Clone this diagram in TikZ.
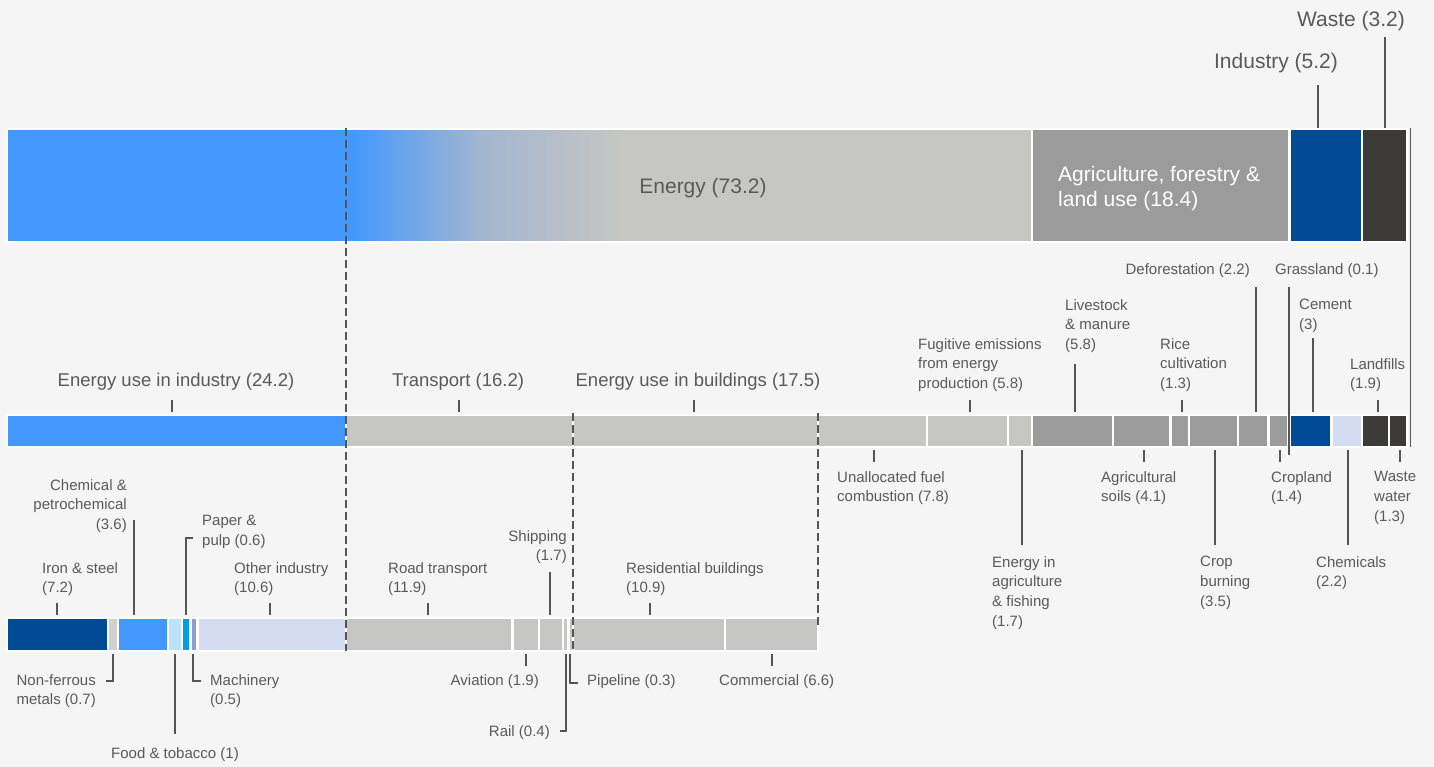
\documentclass[tikz,border=0pt]{standalone}
\usepackage{fontspec}
\setmainfont{Liberation Sans}
\definecolor{bg}{HTML}{F5F5F5}
\definecolor{eblue}{HTML}{4398FE}
\definecolor{egray}{HTML}{C6C6C4}
\definecolor{midc}{HTML}{A2B6D0}
\definecolor{agray}{HTML}{9B9B9B}
\definecolor{iblue}{HTML}{004B93}
\definecolor{wdark}{HTML}{3D3B39}
\definecolor{lav}{HTML}{D3DCF0}
\definecolor{nfgray}{HTML}{D0D0D0}
\definecolor{foodblue}{HTML}{BDE3FB}
\definecolor{paperblue}{HTML}{009FE3}
\definecolor{machblue}{HTML}{8C9ED0}
\definecolor{txt}{HTML}{5A5A5A}
\definecolor{ln}{HTML}{555555}
\tikzset{
  seg/.style={draw=white, line width=2.2pt},
  lead/.style={draw=ln, line width=1.1pt},
  dashln/.style={draw=ln, line width=1.1pt, dash pattern=on 8pt off 4pt},
  lbl/.style={text=txt, font=\fontsize{15}{19.8}\selectfont, inner sep=0pt},
  midl/.style={text=txt, font=\fontsize{18.5}{22}\selectfont, inner sep=0pt},
  big/.style={text=txt, font=\fontsize{21}{25}\selectfont, inner sep=0pt},
}
\begin{document}
\begin{tikzpicture}[x=1pt,y=-1pt]
\fill[bg] (0,0) rectangle (1434,767);
\useasboundingbox (0,0) rectangle (1434,767);

% ---------- top bar ----------
\fill[eblue] (7,129) rectangle (352,242);
\shade[left color=eblue, right color=midc] (352,129) rectangle (480,242);
\shade[left color=midc, right color=egray] (480,129) rectangle (620,242);
\fill[egray] (620,129) rectangle (1031.8,242);
\draw[seg] (7,129) rectangle (1031.8,242);
\draw[seg, fill=agray] (1031.8,129) rectangle (1289.4,242);
\draw[seg, fill=iblue] (1289.4,129) rectangle (1362.2,242);
\draw[seg, fill=wdark] (1362.2,129) rectangle (1407,242);

\node[big, anchor=base] (energy) at (703,193.5) {Energy (73.2)};
\node[big, text=white, anchor=north west, align=left] (agri) at (1058,166) {Agriculture, forestry \&\\land use (18.4)};
\node[big, anchor=base] (indl) at (1276,68.5) {Industry (5.2)};
\node[big, anchor=base east] (wastel) at (1405,26.5) {Waste (3.2)};
\draw[lead] (1318,85) -- (1318,128);
\draw[lead] (1385,37) -- (1385,128);
\draw[lead] (1410.5,128) -- (1410.5,447);

% ---------- middle bar ----------
\foreach \a/\b/\c in {7/345.8/eblue, 345.8/572.6/egray, 572.6/817.6/egray, 817.6/926.8/egray, 926.8/1008/egray, 1008/1031.8/egray,
  1031.8/1113/agray, 1113/1170.4/agray, 1170.4/1188.6/agray, 1188.6/1237.6/agray, 1237.6/1268.4/agray, 1268.4/1288.5/agray,
  1289.4/1331.4/iblue, 1331.4/1362.2/lav, 1362.2/1388.8/wdark, 1388.8/1407/wdark}
  \draw[seg, fill=\c] (\a,415) rectangle (\b,447);

% ---------- bottom bar ----------
\foreach \a/\b/\c in {7/107.8/iblue, 107.8/117.6/nfgray, 117.6/168/eblue, 168/182/foodblue, 182/190.4/paperblue, 190.4/197.4/machblue, 197.4/345.8/lav,
  345.8/512.4/egray, 512.4/539/egray, 539/562.8/egray, 562.8/568.4/egray, 568.4/572.6/egray, 572.6/725.2/egray, 725.2/817.6/egray}
  \draw[seg, fill=\c] (\a,618) rectangle (\b,651);

% dashed guides
\draw[dashln] (346,128) -- (346,651);
\draw[dashln] (573,413) -- (573,651);
\draw[dashln] (818,413) -- (818,628);

% ---------- middle labels above ----------
\node[midl, anchor=base] (eui) at (176,386.5) {Energy use in industry (24.2)};
\node[midl, anchor=base] (tra) at (458,386.5) {Transport (16.2)};
\node[midl, anchor=base] (eub) at (698,386.5) {Energy use in buildings (17.5)};
\draw[lead] (172,400) -- (172,412);
\draw[lead] (459,400) -- (459,412);
\draw[lead] (694,400) -- (694,412);

\node[lbl, anchor=north west, align=left] (fug) at (918,338) {Fugitive emissions\\from energy\\production (5.8)};
\draw[lead] (970,400) -- (970,412);
\node[lbl, anchor=north west, align=left] (liv) at (1065,299) {Livestock\\\& manure\\(5.8)};
\draw[lead] (1075,364) -- (1075,412);
\node[lbl, anchor=north west, align=left] (rice) at (1160,338) {Rice\\cultivation\\(1.3)};
\draw[lead] (1182,400) -- (1182,412);
\node[lbl, anchor=base east] (defo) at (1250,275) {Deforestation (2.2)};
\draw[lead] (1256,287) -- (1256,412);
\node[lbl, anchor=base west] (grass) at (1275,275) {Grassland (0.1)};
\draw[lead] (1289,287) -- (1289,455);
\node[lbl, anchor=north west, align=left] (cem) at (1299,299) {Cement\\(3)};
\draw[lead] (1313,338) -- (1313,412);
\node[lbl, anchor=north west, align=left] (landf) at (1350,358) {Landfills\\(1.9)};
\draw[lead] (1378,400) -- (1378,412);

% ---------- middle labels below ----------
\draw[lead] (874,450) -- (874,462);
\node[lbl, anchor=north west, align=left] (unal) at (837,471) {Unallocated fuel\\combustion (7.8)};
\draw[lead] (1022,450) -- (1022,545);
\node[lbl, anchor=north west, align=left] (eaf) at (992,556) {Energy in\\agriculture\\\& fishing\\(1.7)};
\draw[lead] (1144,450) -- (1144,462);
\node[lbl, anchor=north west, align=left] (soil) at (1101,471) {Agricultural\\soils (4.1)};
\draw[lead] (1215,450) -- (1215,545);
\node[lbl, anchor=north west, align=left] (crop) at (1200,556) {Crop\\burning\\(3.5)};
\draw[lead] (1280,450) -- (1280,462);
\node[lbl, anchor=north west, align=left] (cropl) at (1271,471) {Cropland\\(1.4)};
\draw[lead] (1348,450) -- (1348,545);
\node[lbl, anchor=north west, align=left] (chem) at (1316,556) {Chemicals\\(2.2)};
\draw[lead] (1400,450) -- (1400,462);
\node[lbl, anchor=north west, align=left] (ww) at (1374,471) {Waste\\water\\(1.3)};

% ---------- bottom labels above ----------
\node[lbl, anchor=north west, align=left] (iron) at (42,562) {Iron \& steel\\(7.2)};
\draw[lead] (57,603) -- (57,615);
\node[lbl, anchor=north east, align=right] (chp) at (127,479) {Chemical \&\\petrochemical\\(3.6)};
\draw[lead] (134,520) -- (134,615);
\node[lbl, anchor=north west, align=left] (pap) at (202,515) {Paper \&\\pulp (0.6)};
\draw[lead] (193,538) -- (186,538) -- (186,615);
\node[lbl, anchor=north west, align=left] (oth) at (234,562) {Other industry\\(10.6)};
\draw[lead] (270,603) -- (270,615);
\node[lbl, anchor=north west, align=left] (road) at (388,562) {Road transport\\(11.9)};
\draw[lead] (428,603) -- (428,615);
\node[lbl, anchor=north east, align=right] (ship) at (567,530) {Shipping\\(1.7)};
\draw[lead] (550,572) -- (550,615);
\node[lbl, anchor=north west, align=left] (res) at (626,562) {Residential buildings\\(10.9)};
\draw[lead] (650,603) -- (650,615);

% ---------- bottom labels below ----------
\node[lbl, anchor=north east, align=right] (nfm) at (96,674) {Non-ferrous\\metals (0.7)};
\draw[lead] (113,654) -- (113,681) -- (106,681);
\draw[lead] (175,654) -- (175,734);
\node[lbl, anchor=base] (food) at (175,758) {Food \& tobacco (1)};
\draw[lead] (193,654) -- (193,681) -- (201,681);
\node[lbl, anchor=north west, align=left] (mach) at (210,674) {Machinery\\(0.5)};
\draw[lead] (526,654) -- (526,666);
\node[lbl, anchor=base east] (avi) at (539,685) {Aviation (1.9)};
\draw[lead] (566,654) -- (566,731) -- (560,731);
\node[lbl, anchor=base east] (rail) at (550,736) {Rail (0.4)};
\draw[lead] (570,654) -- (570,683) -- (578,683);
\node[lbl, anchor=base west] (pipe) at (587,685) {Pipeline (0.3)};
\draw[lead] (772,654) -- (772,666);
\node[lbl, anchor=base west] (com) at (719,685) {Commercial (6.6)};
\end{tikzpicture}
\end{document}
